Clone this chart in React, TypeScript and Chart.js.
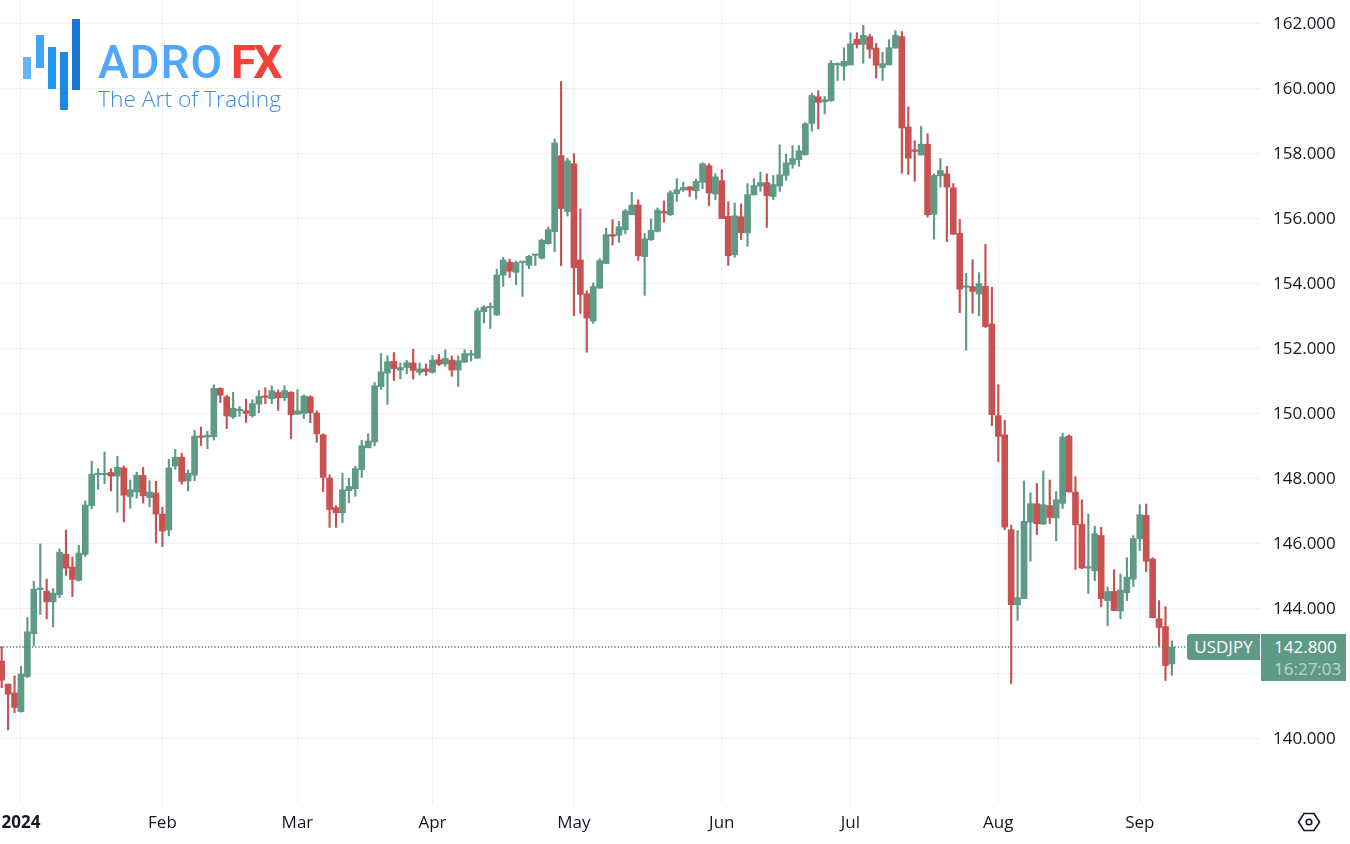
import React, { useEffect, useRef } from "react";
import { Chart, registerables } from "chart.js";

Chart.register(...registerables);

const opens = [
  142.37,141.66,141.39,140.81,141.89,143.21,144.57,144.52,144.19,144.41,
  145.66,145.26,144.85,145.65,147.15,148.10,148.10,148.17,148.06,148.31,
  147.43,147.57,148.08,147.40,147.54,146.89,146.40,148.37,148.64,147.91,
  148.09,149.28,149.26,149.27,150.76,150.50,149.88,150.07,150.07,149.92,
  150.27,150.50,150.44,150.63,150.47,150.64,149.96,149.98,150.50,150.00,
  149.33,148.00,147.09,146.93,147.61,147.67,148.26,148.93,149.11,150.81,
  151.23,151.59,151.32,151.40,151.54,151.25,151.36,151.25,151.64,151.51,
  151.63,151.32,151.56,151.78,151.69,153.12,153.24,153.02,154.24,154.64,
  154.33,154.63,154.55,154.85,154.76,155.21,155.58,157.92,156.20,157.67,
  154.71,153.67,152.83,153.84,154.60,155.49,155.47,155.64,156.10,156.40,
  154.81,155.33,155.59,156.20,156.10,156.75,156.86,156.96,156.84,157.10,
  157.61,156.74,157.15,156.05,154.87,156.04,155.54,156.72,156.98,157.09,
  156.66,156.98,157.31,157.65,157.80,157.95,158.91,159.73,159.57,159.61,
  160.71,160.67,160.71,161.50,161.34,161.58,161.23,160.63,160.71,161.23,
  161.58,158.80,158.09,157.94,158.27,156.11,157.30,157.36,156.93,155.53,
  153.87,153.89,153.66,153.90,152.74,149.92,149.33,146.41,144.10,144.29,
  146.64,147.21,146.58,147.15,146.77,147.22,149.29,147.57,146.58,145.23,
  145.15,146.23,144.23,144.51,143.91,144.47,144.89,146.13,146.85,145.51,
  143.67,143.43,142.28,
];
const closes = [
  141.78,141.35,140.94,141.97,143.27,144.58,144.60,144.19,144.46,145.72,
  145.23,144.88,145.69,147.17,148.12,148.12,148.11,148.06,148.33,147.47,
  147.64,148.09,147.45,147.57,146.89,146.37,148.31,148.64,147.90,148.15,
  149.29,149.25,149.32,150.76,150.55,149.91,150.15,150.10,149.99,150.29,
  150.51,150.48,150.69,150.47,150.69,149.95,150.07,150.52,150.01,149.36,
  148.02,147.03,146.93,147.64,147.74,148.29,148.99,149.14,150.84,151.27,
  151.58,151.37,151.40,151.55,151.31,151.36,151.28,151.63,151.50,151.68,
  151.32,151.61,151.83,151.80,153.15,153.26,153.26,154.25,154.71,154.36,
  154.63,154.65,154.82,154.87,155.32,155.64,158.31,156.29,157.76,154.47,
  153.65,152.92,153.89,154.69,155.49,155.44,155.73,156.22,156.40,154.84,
  155.36,155.62,156.24,156.15,156.78,156.87,156.94,156.86,157.13,157.67,
  156.77,157.27,155.98,154.84,156.07,155.55,156.72,157.00,157.09,156.69,
  157.03,157.33,157.70,157.83,158.07,158.90,159.77,159.56,159.64,160.76,
  160.75,160.82,161.36,161.34,161.62,161.19,160.70,160.75,161.24,161.62,
  158.77,157.84,158.05,158.27,156.10,157.31,157.46,156.95,155.50,153.81,
  153.90,153.74,153.98,152.66,149.95,149.28,146.49,144.10,144.32,146.67,
  147.21,146.59,147.18,146.79,147.33,149.26,147.57,146.56,145.23,145.25,
  146.29,144.29,144.51,143.92,144.55,144.95,146.14,146.87,145.44,143.70,
  143.40,142.23,142.80,
];
const highs = [
  142.81,141.66,141.91,142.20,143.71,144.83,145.97,144.89,144.60,145.82,
  146.40,145.57,145.93,147.30,148.52,148.29,148.80,148.29,148.67,148.37,
  147.94,148.18,148.33,147.92,147.90,147.10,148.58,148.88,148.76,148.25,
  149.47,149.57,149.44,150.87,150.78,150.55,150.64,150.20,150.43,150.41,
  150.69,150.78,150.84,150.71,150.84,150.66,150.72,150.56,150.53,150.07,
  149.36,148.10,147.15,148.15,148.00,148.36,149.16,149.36,150.94,151.83,
  151.76,151.86,151.54,151.62,151.96,151.54,151.51,151.77,151.80,151.95,
  151.76,151.76,151.95,151.93,153.23,153.30,153.39,154.43,154.79,154.74,
  154.68,154.66,154.85,154.87,155.35,155.72,158.43,160.20,157.84,157.98,
  156.28,153.76,154.00,154.75,155.69,155.95,155.90,156.26,156.79,156.56,
  155.52,155.97,156.31,156.53,156.84,157.21,157.10,156.97,157.20,157.70,
  157.67,157.36,157.49,156.50,156.46,156.44,157.06,157.21,157.41,157.36,
  157.31,158.25,157.96,158.23,158.23,158.94,159.84,159.92,159.74,160.84,
  160.78,161.24,161.70,161.70,161.93,161.65,161.37,161.10,161.49,161.77,
  161.74,159.42,158.38,158.82,158.59,157.36,157.83,157.59,157.06,155.96,
  154.30,154.72,154.32,155.19,153.87,150.87,149.78,146.55,146.38,147.91,
  147.55,147.83,148.22,147.94,147.58,149.38,149.33,148.04,147.33,146.89,
  146.52,146.49,144.65,145.18,145.05,145.55,146.23,147.18,147.20,145.55,
  144.23,144.04,142.99,
];
const lows = [
  141.55,140.25,140.78,140.80,141.86,142.84,143.80,143.67,143.42,144.32,
  145.00,144.35,144.83,145.59,147.05,147.65,147.83,147.60,146.95,146.65,
  147.07,147.38,147.23,147.11,146.00,145.89,146.22,148.27,147.81,147.60,
  147.92,149.00,148.90,149.17,150.32,149.52,149.83,149.90,149.71,149.87,
  150.01,150.29,150.29,150.08,150.38,149.21,149.96,149.83,149.70,149.10,
  147.58,146.48,146.48,146.63,147.24,147.44,148.02,148.93,148.99,150.73,
  150.27,151.00,151.05,151.21,151.04,151.17,151.16,151.23,151.46,151.44,
  151.13,150.82,151.56,151.60,151.68,152.77,152.60,153.00,153.90,154.17,
  153.95,153.59,154.44,154.54,154.74,155.19,154.96,154.53,156.06,153.00,
  153.06,151.87,152.76,153.84,154.60,155.17,155.25,155.52,156.10,154.70,
  153.62,155.31,155.57,155.87,156.08,156.51,156.82,156.66,156.58,156.90,
  156.38,156.56,155.98,154.54,154.79,155.34,155.13,156.70,156.82,155.71,
  156.57,156.82,157.16,157.53,157.59,157.93,158.67,158.74,159.20,159.59,
  160.23,160.24,160.71,161.23,160.76,160.92,160.31,160.23,160.71,161.22,
  157.38,157.34,157.13,157.94,156.03,155.35,156.95,155.27,155.50,153.09,
  151.93,153.07,152.99,152.63,149.61,148.50,146.41,141.67,143.62,144.29,
  145.44,146.26,146.58,146.60,146.07,147.06,147.57,145.18,145.21,144.45,
  144.84,144.04,143.45,143.92,143.67,144.23,144.66,145.77,145.12,143.70,
  142.83,141.77,141.93,
];

const monthIndexes = [3, 25, 46, 67, 89, 112, 132, 155, 177];
const monthLabels = ["2024", "Feb", "Mar", "Apr", "May", "Jun", "Jul", "Aug", "Sep"];
const priceTicks = [140, 142, 144, 146, 148, 150, 152, 154, 156, 158, 160, 162];
const lastPrice = 142.8;

const GREEN = "#5f9a86";
const RED = "#c85252";
const GRID = "#f0f1f3";
const TEXT = "#131722";
const FONT = "'Open Sans', sans-serif";

const abs = (s: React.CSSProperties): React.CSSProperties => ({ position: "absolute", ...s });

const nudgeYLabels = {
  id: "nudgeYLabels",
  beforeDraw(chart: any) {
    if (chart.$nudged) return;
    chart.$nudged = true;
    for (const item of chart.scales.y.getLabelItems()) {
      item.options.translation[1] += 1;
    }
  },
};

export default function App() {
  const ref = useRef<HTMLCanvasElement>(null);
  useEffect(() => {
    const idx = opens.map((_, i) => i);
    const colors = idx.map((i) => (closes[i] >= opens[i] ? GREEN : RED));
    const xMin = -0.26;
    const xMax = 195.7;
    const chart = new Chart(ref.current!, {
      type: "bar",
      plugins: [nudgeYLabels],
      data: {
        datasets: [
          {
            type: "line",
            data: [
              { x: xMin, y: lastPrice },
              { x: 184.3, y: lastPrice },
            ],
            borderColor: "#3f8a72",
            borderWidth: 1.4,
            borderDash: [1.3, 1.9],
            pointRadius: 0,
            order: 0,
          } as any,
          {
            data: idx.map((i) => ({ x: i, y: [lows[i], highs[i]] })),
            backgroundColor: colors,
            barThickness: 1.5,
            grouped: false,
            order: 2,
          } as any,
          {
            data: idx.map((i) => ({ x: i, y: [opens[i], closes[i]] })),
            backgroundColor: colors,
            barThickness: 6,
            minBarLength: 1.5,
            grouped: false,
            order: 1,
          } as any,
        ],
      },
      options: {
        animation: false,
        responsive: false,
        devicePixelRatio: 1,
        layout: { padding: 0, autoPadding: false },
        plugins: { legend: { display: false }, tooltip: { enabled: false } },
        scales: {
          x: {
            type: "linear",
            offset: false,
            min: xMin,
            max: xMax,
            afterBuildTicks: (s: any) => {
              s.ticks = monthIndexes.map((value) => ({ value }));
            },
            afterFit: (s: any) => {
              s.height = 39;
              s.paddingLeft = 0;
              s.paddingRight = 0;
            },
            border: { display: false },
            grid: { color: GRID, lineWidth: 1, drawTicks: false, offset: false },
            ticks: {
              autoSkip: false,
              maxRotation: 0,
              padding: 7.5,
              color: TEXT,
              font: (c: any) => ({
                family: FONT,
                size: 17,
                weight: c.index === 0 ? "bold" : "normal",
              }),
              callback: (v: any) => monthLabels[monthIndexes.indexOf(Number(v))] ?? "",
            },
          },
          y: {
            type: "linear",
            position: "right",
            min: 137.94,
            max: 162.708,
            afterBuildTicks: (s: any) => {
              s.ticks = priceTicks.map((value) => ({ value }));
            },
            afterFit: (s: any) => {
              s.width = 90;
              s.paddingTop = 0;
              s.paddingBottom = 0;
            },
            border: { display: false },
            grid: { color: GRID, lineWidth: 1, drawTicks: false },
            ticks: {
              autoSkip: false,
              padding: 13,
              color: TEXT,
              font: { family: FONT, size: 17 },
              callback: (v: any) => Number(v).toFixed(3),
            },
          },
        },
      },
    } as any);
    return () => chart.destroy();
  }, []);

  const logoBars: [number, number, number, string][] = [
    [23, 57, 21.5, "#64b5f6"],
    [35.5, 35, 32.5, "#42a5f5"],
    [47.5, 47, 42, "#2196f3"],
    [60, 51.5, 58.5, "#1e88e5"],
    [72, 19, 70.5, "#1976d2"],
  ];

  return (
    <div style={abs({ left: 0, top: 0, width: 1350, height: 844, overflow: "hidden", background: "#fff" })}>
      <canvas ref={ref} width={1350} height={844} style={abs({ left: 0, top: 0 })} />
      {logoBars.map(([l, t, h, c]) => (
        <div key={l} style={abs({ left: l, top: t, width: 8, height: h, background: c })} />
      ))}
      <div
        style={abs({
          left: 98,
          top: 33,
          fontFamily: "Roboto, sans-serif",
          fontSize: 46,
          fontWeight: 500,
          letterSpacing: 1,
          lineHeight: "58px",
          color: "#4fa7fb",
          whiteSpace: "nowrap",
        })}
      >
        ADRO
      </div>
      <div
        style={abs({
          left: 231,
          top: 33,
          fontFamily: "Roboto, sans-serif",
          fontSize: 46,
          fontWeight: 700,
          letterSpacing: -3,
          lineHeight: "58px",
          color: "#f44336",
          whiteSpace: "nowrap",
        })}
      >
        FX
      </div>
      <div
        style={abs({
          left: 98,
          top: 84,
          fontFamily: FONT,
          fontSize: 22.8,
          fontWeight: 300,
          lineHeight: "30px",
          color: "#3a8fe8",
          whiteSpace: "nowrap",
        })}
      >
        The Art of Trading
      </div>
      <div
        style={abs({
          left: 1187,
          top: 634,
          width: 73,
          height: 26,
          background: GREEN,
          borderRadius: "3px 0 0 3px",
          color: "#fff",
          fontFamily: FONT,
          fontSize: 17,
          lineHeight: "26px",
          textAlign: "center",
        })}
      >
        USDJPY
      </div>
      <div
        style={abs({
          left: 1261,
          top: 634,
          width: 85,
          height: 47,
          background: GREEN,
          color: "#fff",
          fontFamily: FONT,
          fontSize: 17,
          lineHeight: "22px",
          textAlign: "left",
          paddingLeft: 13,
          boxSizing: "border-box",
        })}
      >
        <div style={{ marginTop: 2 }}>142.800</div>
        <div style={{ color: "rgba(255,255,255,0.6)" }}>16:27:03</div>
      </div>
      <svg width="26" height="24" viewBox="0 0 26 24" style={abs({ left: 1296, top: 810 })}>
        <path d="M8 3.5h10l5.5 8.5-5.5 8.5H8L2.5 12z" fill="none" stroke="#131722" strokeWidth="1.6" />
        <circle cx="13" cy="12" r="2.8" fill="none" stroke="#131722" strokeWidth="1.6" />
      </svg>
    </div>
  );
}
